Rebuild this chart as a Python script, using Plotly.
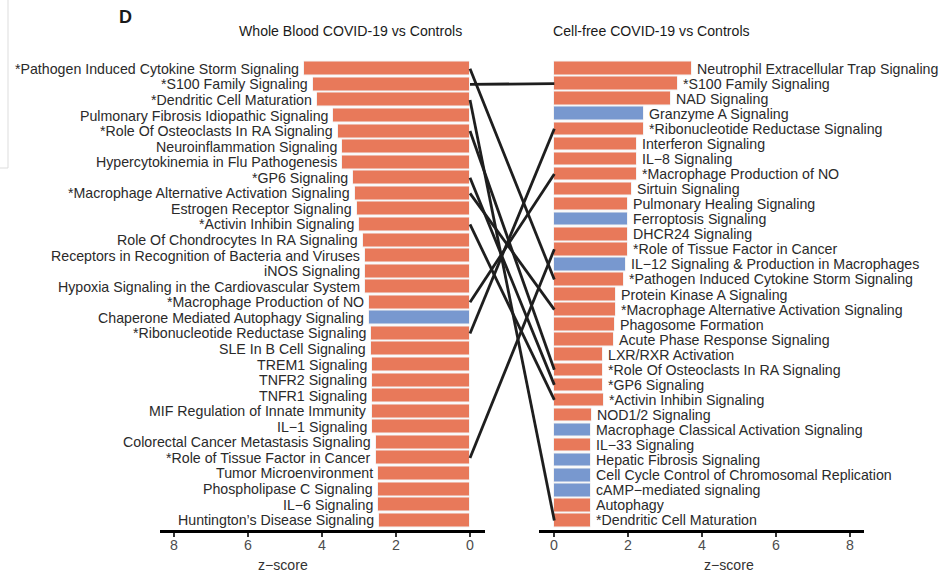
import plotly.graph_objects as go

W, H = 948, 574

# ---------------- data ----------------
left_labels = [
    "*Pathogen Induced Cytokine Storm Signaling", "*S100 Family Signaling",
    "*Dendritic Cell Maturation", "Pulmonary Fibrosis Idiopathic Signaling",
    "*Role Of Osteoclasts In RA Signaling", "Neuroinflammation Signaling",
    "Hypercytokinemia in Flu Pathogenesis", "*GP6 Signaling",
    "*Macrophage Alternative Activation Signaling", "Estrogen Receptor Signaling",
    "*Activin Inhibin Signaling", "Role Of Chondrocytes In RA Signaling",
    "Receptors in Recognition of Bacteria and Viruses", "iNOS Signaling",
    "Hypoxia Signaling in the Cardiovascular System", "*Macrophage Production of NO",
    "Chaperone Mediated Autophagy Signaling", "*Ribonucleotide Reductase Signaling",
    "SLE In B Cell Signaling", "TREM1 Signaling", "TNFR2 Signaling", "TNFR1 Signaling",
    "MIF Regulation of Innate Immunity", "IL\u22121 Signaling",
    "Colorectal Cancer Metastasis Signaling", "*Role of Tissue Factor in Cancer",
    "Tumor Microenvironment", "Phospholipase C Signaling", "IL\u22126 Signaling",
    "Huntington\u2019s Disease Signaling",
]
left_values = [4.50, 4.25, 4.14, 3.71, 3.58, 3.47, 3.46, 3.17, 3.10, 3.06,
               2.99, 2.90, 2.84, 2.84, 2.84, 2.72, 2.72, 2.68, 2.68, 2.66,
               2.66, 2.66, 2.66, 2.66, 2.54, 2.54, 2.50, 2.50, 2.50, 2.46]
left_dir = ["up"] * 16 + ["down"] + ["up"] * 13

right_labels = [
    "Neutrophil Extracellular Trap Signaling", "*S100 Family Signaling", "NAD Signaling",
    "Granzyme A Signaling", "*Ribonucleotide Reductase Signaling", "Interferon Signaling",
    "IL\u22128 Signaling", "*Macrophage Production of NO", "Sirtuin Signaling",
    "Pulmonary Healing Signaling", "Ferroptosis Signaling", "DHCR24 Signaling",
    "*Role of Tissue Factor in Cancer", "IL\u221212 Signaling & Production in Macrophages",
    "*Pathogen Induced Cytokine Storm Signaling", "Protein Kinase A Signaling",
    "*Macrophage Alternative Activation Signaling", "Phagosome Formation",
    "Acute Phase Response Signaling", "LXR/RXR Activation",
    "*Role Of Osteoclasts In RA Signaling", "*GP6 Signaling", "*Activin Inhibin Signaling",
    "NOD1/2 Signaling", "Macrophage Classical Activation Signaling", "IL\u221233 Signaling",
    "Hepatic Fibrosis Signaling", "Cell Cycle Control of Chromosomal Replication",
    "cAMP\u2212mediated signaling", "Autophagy", "*Dendritic Cell Maturation",
]
right_values = [3.73, 3.35, 3.15, 2.43, 2.43, 2.23, 2.23, 2.23, 2.11, 2.00,
                1.98, 1.98, 1.98, 1.93, 1.88, 1.66, 1.66, 1.63, 1.62, 1.32,
                1.32, 1.32, 1.34, 1.01, 1.00, 1.00, 1.00, 1.00, 1.00, 1.00, 1.00]
right_dir = ["up", "up", "up", "down", "up", "up", "up", "up", "up", "up",
             "down", "up", "up", "down", "up", "up", "up", "up", "up", "up",
             "up", "up", "up", "up", "down", "up", "down", "down", "down", "up", "up"]

x_ticks = [0, 2, 4, 6, 8]

# ---------------- style ----------------
FONT = "Liberation Sans, Arial, Helvetica, sans-serif"
COL = {"up": "#E8795A", "down": "#7898CF"}
TXT = "#2a2a2a"
LABEL_SIZE = 14.2
PAD = 0.6
BARW = 0.9

def px(x):
    return x / W

def py(y):
    return 1 - y / H

# axis geometry (paper fractions)
LDOM = [px(160), px(485)]
RDOM = [px(539), px(864)]
LRANGE = [8.378, -0.405]
RRANGE = [-0.414, 8.37]
YDOM = [py(529.5), py(59.5)]

def ypos(i, n):
    return (i + PAD) / (n - 1 + 2 * PAD)

def zero_paper(dom, rng):
    return dom[0] + (dom[1] - dom[0]) * (0 - rng[0]) / (rng[1] - rng[0])

nL, nR = len(left_labels), len(right_labels)
yL = [ypos(i, nL) for i in range(nL)]
yR = [ypos(i, nR) for i in range(nR)]

fig = go.Figure()

fig.add_trace(go.Bar(
    x=left_values, y=yL, orientation="h", xaxis="x", yaxis="y",
    width=BARW / (nL - 1 + 2 * PAD),
    marker=dict(color=[COL[d] for d in left_dir], line=dict(color="#f4f4f4", width=1)),
    hoverinfo="skip", showlegend=False,
))
fig.add_trace(go.Bar(
    x=right_values, y=yR, orientation="h", xaxis="x2", yaxis="y",
    width=BARW / (nR - 1 + 2 * PAD),
    marker=dict(color=[COL[d] for d in right_dir], line=dict(color="#f4f4f4", width=1)),
    hoverinfo="skip", showlegend=False,
))

annotations = []
for lab, v, y in zip(left_labels, left_values, yL):
    annotations.append(dict(x=v, y=y, xref="x", yref="y", text=lab, showarrow=False,
                            xanchor="right", yanchor="middle", xshift=-3,
                            font=dict(family=FONT, size=LABEL_SIZE, color=TXT)))
for lab, v, y in zip(right_labels, right_values, yR):
    annotations.append(dict(x=v, y=y, xref="x2", yref="y", text=lab, showarrow=False,
                            xanchor="left", yanchor="middle", xshift=3,
                            font=dict(family=FONT, size=LABEL_SIZE, color=TXT)))

# tick labels (drawn as text under each axis)
for xa in ("x", "x2"):
    for t in x_ticks:
        annotations.append(dict(x=t, y=py(544.5), xref=xa, yref="paper", text=str(t),
                                showarrow=False, xanchor="center", yanchor="middle",
                                font=dict(family=FONT, size=14.2, color="#4d4d4d")))

# titles
annotations += [
    dict(x=px(350), y=py(31), xref="paper", yref="paper", text="Whole Blood COVID-19 vs Controls",
         showarrow=False, xanchor="center", yanchor="middle",
         font=dict(family=FONT, size=14.1, color="#1a1a1a")),
    dict(x=px(651), y=py(31), xref="paper", yref="paper", text="Cell-free COVID-19 vs Controls",
         showarrow=False, xanchor="center", yanchor="middle",
         font=dict(family=FONT, size=14.1, color="#1a1a1a")),
    dict(x=px(126), y=py(16.5), xref="paper", yref="paper", text="<b>D</b>",
         showarrow=False, xanchor="center", yanchor="middle",
         font=dict(family=FONT, size=18, color="#1a1a1a")),
    dict(x=px(283), y=py(565), xref="paper", yref="paper", text="z\u2212score",
         showarrow=False, xanchor="center", yanchor="middle",
         font=dict(family=FONT, size=14.1, color="#333333")),
    dict(x=px(729), y=py(565), xref="paper", yref="paper", text="z\u2212score",
         showarrow=False, xanchor="center", yanchor="middle",
         font=dict(family=FONT, size=14.1, color="#333333")),
]

# connector lines between shared pathways
shapes = []
xl0 = zero_paper(LDOM, LRANGE)
xr0 = zero_paper(RDOM, RRANGE)
for i, lab in enumerate(left_labels):
    if lab.startswith("*") and lab in right_labels:
        j = right_labels.index(lab)
        shapes.append(dict(type="line", xref="paper", yref="y",
                           x0=xl0, y0=yL[i], x1=xr0, y1=yR[j],
                           line=dict(color="#1e1e1e", width=2.8), layer="above"))

# faint frame remnant at the top-left
shapes.append(dict(type="line", xref="paper", yref="paper", x0=px(8), x1=px(8),
                   y0=py(0), y1=py(168), line=dict(color="#dddddd", width=1)))
shapes.append(dict(type="line", xref="paper", yref="paper", x0=px(0), x1=px(8),
                   y0=py(168), y1=py(168), line=dict(color="#dddddd", width=1)))

axis_common = dict(
    showgrid=False, zeroline=False, showline=True, linecolor="#000000", linewidth=3,
    ticks="outside", ticklen=4, tickwidth=2, tickcolor="#333333",
    tickvals=x_ticks, showticklabels=False,
    anchor="y", fixedrange=True,
)

fig.update_layout(
    width=W, height=H,
    margin=dict(l=0, r=0, t=0, b=0),
    paper_bgcolor="white", plot_bgcolor="white",
    xaxis=dict(domain=LDOM, range=LRANGE, **axis_common),
    xaxis2=dict(domain=RDOM, range=RRANGE, **axis_common),
    yaxis=dict(domain=YDOM, range=[1, 0], visible=False, fixedrange=True),
    annotations=annotations,
    shapes=shapes,
    bargap=0,
)

fig.write_html("out.html")
